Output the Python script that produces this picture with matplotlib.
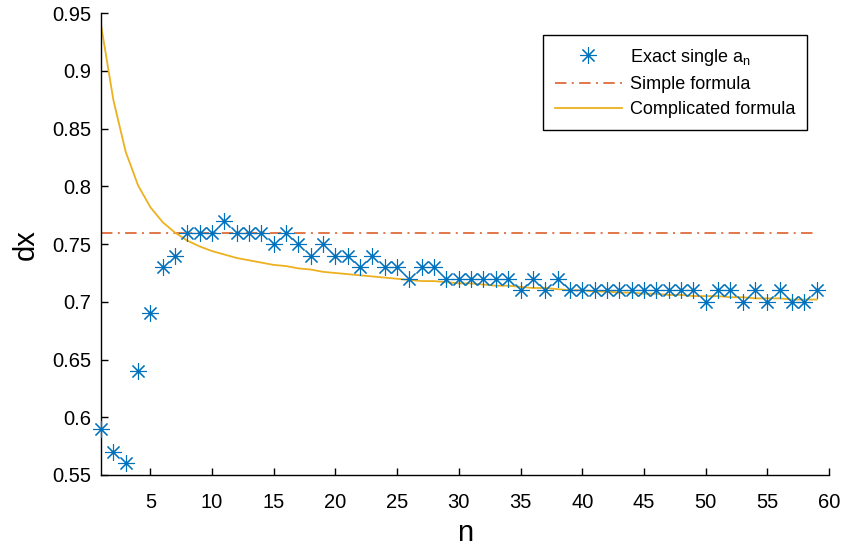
import matplotlib
matplotlib.use('Agg')
import matplotlib.pyplot as plt
import numpy as np

plt.rcParams['font.family'] = ['Liberation Sans', 'DejaVu Sans']
plt.rcParams['mathtext.default'] = 'regular'

# index n of each point
n = list(range(1, 60))

# exact dx for a single a_n
dx_exact = [0.59, 0.57, 0.56, 0.64, 0.69, 0.73, 0.74, 0.76, 0.76, 0.76,
            0.77, 0.76, 0.76, 0.76, 0.75, 0.76, 0.75, 0.74, 0.75, 0.74,
            0.74, 0.73, 0.74, 0.73, 0.73, 0.72, 0.73, 0.73, 0.72, 0.72,
            0.72, 0.72, 0.72, 0.72, 0.71, 0.72, 0.71, 0.72, 0.71, 0.71,
            0.71, 0.71, 0.71, 0.71, 0.71, 0.71, 0.71, 0.71, 0.71, 0.70,
            0.71, 0.71, 0.70, 0.71, 0.70, 0.71, 0.70, 0.70, 0.71]

# simple formula: one constant value
dx_simple = 0.76

# complicated formula
dx_complicated = [0.940, 0.875, 0.830, 0.801, 0.782, 0.769, 0.760, 0.753, 0.748, 0.744,
                  0.741, 0.738, 0.736, 0.734, 0.732, 0.731, 0.729, 0.728, 0.726, 0.725,
                  0.724, 0.723, 0.722, 0.721, 0.720, 0.719, 0.718, 0.718, 0.717, 0.716,
                  0.716, 0.715, 0.714, 0.714, 0.713, 0.712, 0.712, 0.711, 0.710, 0.710,
                  0.709, 0.709, 0.708, 0.708, 0.707, 0.707, 0.706, 0.706, 0.705, 0.705,
                  0.705, 0.704, 0.704, 0.703, 0.703, 0.703, 0.702, 0.702, 0.702]

blue = (0, 0.447, 0.741)
orange = (0.85, 0.325, 0.098)
yellow = (0.929, 0.694, 0.125)

fig = plt.figure(figsize=(8.41, 5.49), dpi=100)
ax = fig.add_axes([0.1201, 0.1348, 0.8656, 0.841])

# 8-armed asterisk like MATLAB's '*'
ax.plot(n, dx_exact, linestyle='none', marker=(8, 2, 0), markersize=12,
        markeredgewidth=0.8, color=blue, label='Exact single a$_n$', clip_on=False, zorder=3)
ax.plot(n, [dx_simple] * len(n), linestyle=(0, (7.5, 3.5, 1.3, 3.5)), color=orange,
        linewidth=1.1, label='Simple formula')
ax.plot(n, dx_complicated, color=yellow, linewidth=1.3, label='Complicated formula')

ax.set_xlim(1, 60)
ax.set_ylim(0.55, 0.95)
ax.set_xticks(np.arange(5, 61, 5))
ax.set_yticks(np.arange(0.55, 0.951, 0.05))
ax.set_yticklabels(['0.55', '0.6', '0.65', '0.7', '0.75', '0.8', '0.85', '0.9', '0.95'])

for side in ['top', 'right']:
    ax.spines[side].set_visible(False)
for side in ['left', 'bottom']:
    ax.spines[side].set_linewidth(1.0)
ax.tick_params(direction='in', length=5, width=1.0, labelsize=14.5)
ax.tick_params(axis='x', pad=13)
ax.tick_params(axis='y', pad=7)

ax.set_xlabel('n', fontsize=21, labelpad=5)
ax.set_ylabel('dx', fontsize=21, labelpad=9)

leg = ax.legend(loc='upper right', bbox_to_anchor=(0.9698, 0.953), borderaxespad=0,
                fontsize=13, handlelength=3.7, handletextpad=0.45, labelspacing=0.45,
                borderpad=0.65, fancybox=False, framealpha=1, edgecolor='black')
leg.get_frame().set_linewidth(1.0)

fig.savefig('out.png', dpi=100)
